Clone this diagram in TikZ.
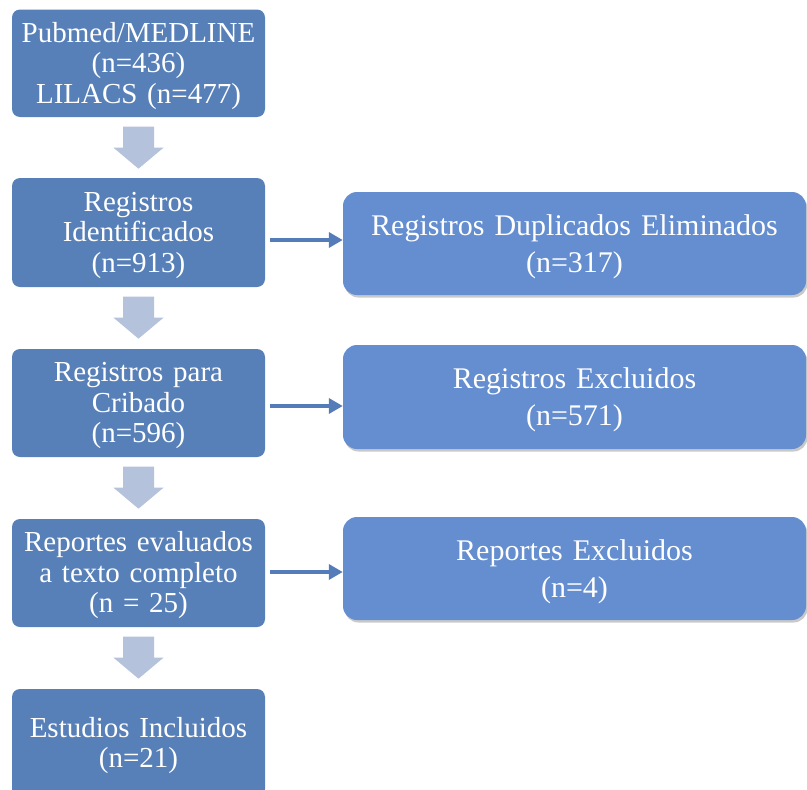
\documentclass[tikz,border=0pt]{standalone}
\usepackage{fontspec}
\setmainfont{Liberation Serif}
\usetikzlibrary{calc,shadows,arrows.meta}
\definecolor{leftblue}{RGB}{88,128,184}
\definecolor{rightblue}{RGB}{100,142,208}
\definecolor{arrowgrey}{RGB}{180,194,220}
\definecolor{sideblue}{RGB}{84,124,184}
\newcommand\dnarrow[1]{\fill[downarr] ($(#1.south)+(-15.5,-9.5)$) -- ++(31,0) -- ++(0,-21) -- ++(9.5,0) -- ++(-25,-21) -- ++(-25,21) -- ++(9.5,0) -- cycle;}
\begin{document}
\begin{tikzpicture}[x=1pt,y=1pt,
  lbox/.style={fill=leftblue, rounded corners=8pt, text=white, minimum width=253pt,
    text width=247pt, align=center, inner sep=0pt,
    font=\fontsize{29}{30.5}\selectfont},
  rbox/.style={fill=rightblue, rounded corners=14pt, text=white, minimum width=463pt,
    text width=455pt, align=center, inner sep=0pt,
    font=\fontsize{30}{37}\selectfont,
    drop shadow={shadow xshift=1.5pt, shadow yshift=-2.5pt, opacity=0.3, fill=black!70}},
  downarr/.style={fill=arrowgrey},
  sidearr/.style={draw=sideblue, line width=3.5pt, -{Triangle[length=14pt,width=15pt]}}]
\useasboundingbox (0,0) rectangle (807,-790);
\node[lbox, minimum height=107.5pt] (b1) at (138.5,-63.25) {\rule{0pt}{25pt}Pubmed/MEDLINE\\(n=436)\\LILACS (n=477)};
\node[lbox, minimum height=109pt] (b2) at (138.5,-232.5) {\rule{0pt}{25pt}Registros\\Identificados\\(n=913)};
\node[lbox, minimum height=108pt] (b3) at (138.5,-403) {\rule{0pt}{25pt}Registros para\\Cribado\\(n=596)};
\node[lbox, minimum height=108pt] (b4) at (138.5,-573) {\rule{0pt}{25pt}Reportes evaluados\\a texto completo\\(n = 25)};
\node[lbox, minimum height=108pt] (b5) at (138.5,-743) {\rule{0pt}{25pt}Estudios Incluidos\\(n=21)};
\node[rbox, minimum height=103pt] (r1) at (574.5,-243.5) {\rule{0pt}{27pt}Registros Duplicados Eliminados\\(n=317)};
\node[rbox, minimum height=104pt] (r2) at (574.5,-397) {\rule{0pt}{27pt}Registros Excluidos\\(n=571)};
\node[rbox, minimum height=103pt] (r3) at (574.5,-568.5) {\rule{0pt}{27pt}Reportes Excluidos\\(n=4)};
\dnarrow{b1}
\dnarrow{b2}
\dnarrow{b3}
\dnarrow{b4}
\draw[sidearr] ([xshift=5pt,yshift=-7.5pt]b2.east) -- ([yshift=3.5pt]r1.west);
\draw[sidearr] ([xshift=5pt,yshift=-3pt]b3.east) -- ([yshift=-9pt]r2.west);
\draw[sidearr] ([xshift=5pt,yshift=1pt]b4.east) -- ([yshift=-3.5pt]r3.west);
\end{tikzpicture}
\end{document}
